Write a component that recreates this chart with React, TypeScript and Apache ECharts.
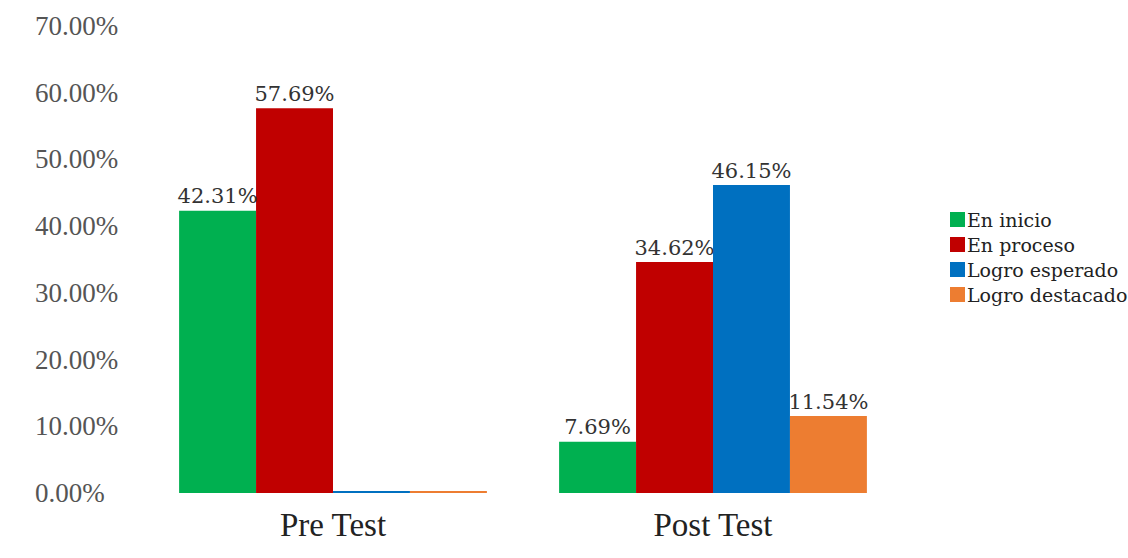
import React, { useEffect, useRef } from "react";
import * as echarts from "echarts";

const categories = ["Pre Test", "Post Test"];
const seriesNames = ["En inicio", "En proceso", "Logro esperado", "Logro destacado"];
const enInicio = [42.31, 7.69];
const enProceso = [57.69, 34.62];
const logroEsperado = [0, 46.15];
const logroDestacado = [0, 11.54];
const yTicks = [0, 10, 20, 30, 40, 50, 60, 70];
const colors = ["#00B050", "#C00000", "#0070C0", "#ED7D31"];

const SERIF = "DejaVu Serif";
const TIMES = "Liberation Serif";

export default function App() {
  const ref = useRef<HTMLDivElement>(null);
  useEffect(() => {
    document.body.style.margin = "0";
    const chart = echarts.init(ref.current!, undefined, { renderer: "svg" });
    const data = [enInicio, enProceso, logroEsperado, logroDestacado];
    chart.setOption({
      animation: false,
      backgroundColor: "#ffffff",
      textStyle: { fontFamily: SERIF },
      grid: { left: 143, right: 225, top: 26, bottom: 65 },
      legend: {
        orient: "vertical",
        left: 945,
        top: 205,
        itemWidth: 15,
        itemHeight: 15,
        itemGap: 6,
        icon: "rect",
        data: seriesNames,
        textStyle: { fontFamily: SERIF, fontSize: 19, color: "#222", padding: [0, 0, 0, -3] },
      },
      xAxis: {
        type: "category",
        data: categories,
        axisLine: { show: false },
        axisTick: { show: false },
        axisLabel: { fontFamily: TIMES, fontSize: 33, color: "#222", margin: 15 },
      },
      yAxis: {
        type: "value",
        min: yTicks[0],
        max: yTicks[yTicks.length - 1],
        interval: 10,
        axisLine: { show: false },
        axisTick: { show: false },
        splitLine: { show: false },
        axisLabel: {
          fontFamily: TIMES,
          fontSize: 27,
          color: "#555",
          align: "left",
          margin: 108,
          formatter: (v: number) => v.toFixed(2) + "%",
        },
      },
      series: seriesNames.map((name, i) => ({
        name,
        type: "bar",
        data: data[i],
        barGap: "0%",
        barCategoryGap: "19%",
        barMinHeight: 2,
        itemStyle: { color: colors[i] },
        label: {
          show: true,
          position: "top",
          distance: 4,
          fontFamily: SERIF,
          fontSize: 21,
          color: "#333",
          formatter: (p: any) => (p.value ? p.value.toFixed(2) + "%" : ""),
        },
      })),
    });
    return () => chart.dispose();
  }, []);
  return <div ref={ref} style={{ width: 1128, height: 558 }} />;
}
